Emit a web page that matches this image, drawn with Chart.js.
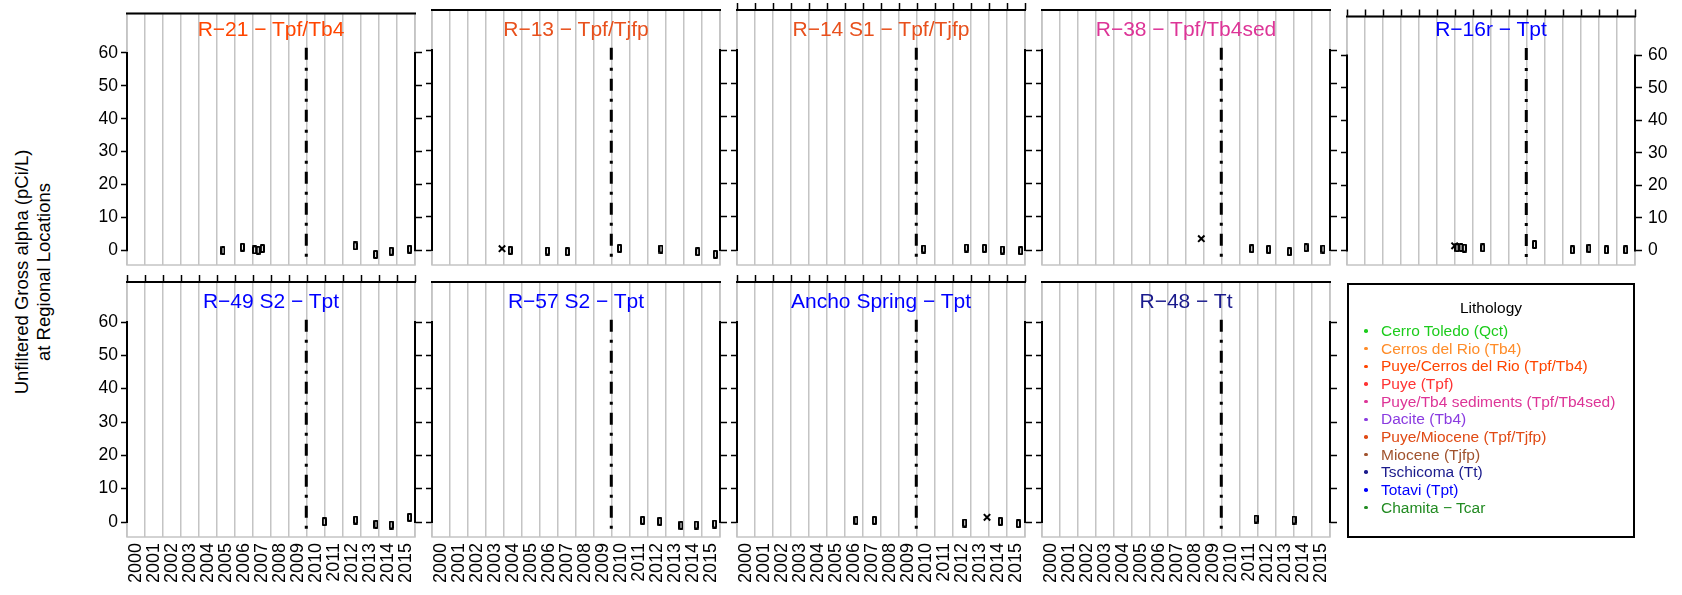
<!DOCTYPE html>
<html lang="en">
<head>
<meta charset="UTF-8">
<title>Unfiltered Gross alpha at Regional Locations</title>
<script src="https://cdn.jsdelivr.net/npm/chart.js"></script>
<style>
  body { margin: 0; width: 1682px; height: 595px; background: #fff; position: relative; overflow: hidden;
         font-family: "Liberation Sans", Arial, sans-serif; }
  canvas { position: absolute; left: 0; top: 0; pointer-events: none; }
  .ptitle { position: absolute; width: 288px; text-align: center; font-size: 21px; line-height: 24px; white-space: nowrap; }
  .ylab { position: absolute; left: 33px; top: 272px; width: 0; height: 0; }
  .ylab div { position: absolute; left: -200px; top: -22px; width: 400px; text-align: center; font-size: 18.5px; line-height: 22px;
              transform: rotate(-90deg); white-space: nowrap; }
  .legend { position: absolute; left: 1347px; top: 283px; width: 288px; height: 255px; border: 2px solid #000; box-sizing: border-box; }
  .lg { position: absolute; font-size: 15.5px; line-height: 18px; white-space: nowrap; }
  .dot { position: absolute; width: 3.5px; height: 3.5px; border-radius: 50%; }
</style>
</head>
<body>
<div class="ylab"><div>Unfiltered Gross alpha (pCi/L)<br>at Regional Locations</div></div>
<div class="legend"></div>
<script>
// axis ticks
const years = [2000, 2001, 2002, 2003, 2004, 2005, 2006, 2007, 2008, 2009, 2010, 2011, 2012, 2013, 2014, 2015, 2016];
const yTicks = [0, 10, 20, 30, 40, 50, 60];

// panels
const titles = ['R\u221221 \u2212 Tpf/Tb4', 'R\u221213 \u2212 Tpf/Tjfp', 'R\u221214 S1 \u2212 Tpf/Tjfp', 'R\u221238 \u2212 Tpf/Tb4sed', 'R\u221216r \u2212 Tpt',
                'R\u221249 S2 \u2212 Tpt', 'R\u221257 S2 \u2212 Tpt', 'Ancho Spring \u2212 Tpt', 'R\u221248 \u2212 Tt'];
const titleColors = ['#ff4500', '#e8501c', '#e8501c', '#dd3497', '#0000ff', '#0000ff', '#0000ff', '#0000ff', '#1a1a8c'];

// results (box markers) and x markers, per location
const r21X = [2005.33, 2006.41, 2007.09, 2007.29, 2007.52, 2012.68, 2013.81, 2014.68, 2015.7];
const r21Y = [-0.1, 0.9, 0.1, 0, 0.5, 1.3, -1.3, -0.3, 0.3];
const r13X = [2004.35, 2006.41, 2007.52, 2010.42, 2012.72, 2014.76, 2015.74];
const r13Y = [-0.1, -0.3, -0.5, 0.5, 0.3, -0.5, -1.3];
const r13CrossX = [2003.89];
const r13CrossY = [0.4];
const r14X = [2010.37, 2012.74, 2013.74, 2014.74, 2015.76];
const r14Y = [0.3, 0.6, 0.5, 0, -0.2];
const r38X = [2011.65, 2012.59, 2013.74, 2014.67, 2015.61];
const r38Y = [0.4, 0.2, -0.5, 0.7, 0.3];
const r38CrossX = [2008.85];
const r38CrossY = [3.4];
const r16X = [2006.11, 2006.33, 2006.52, 2007.54, 2010.42, 2012.52, 2013.44, 2014.41, 2015.48];
const r16Y = [0.8, 0.9, 0.7, 0.8, 1.8, 0.2, 0.6, 0.2, 0.2];
const r16CrossX = [2005.98];
const r16CrossY = [1.4];
const r49X = [2010.96, 2012.7, 2013.83, 2014.68, 2015.7];
const r49Y = [0.1, 0.6, -0.7, -0.9, 1.4];
const r57X = [2011.7, 2012.65, 2013.83, 2014.68, 2015.7];
const r57Y = [0.5, 0.2, -1.0, -0.9, -0.6];
const anchoX = [2006.61, 2007.63, 2012.65, 2014.63, 2015.63];
const anchoY = [0.5, 0.5, -0.3, 0.2, -0.5];
const anchoCrossX = [2013.89];
const anchoCrossY = [1.4];
const r48X = [2011.89, 2014.0];
const r48Y = [0.9, 0.6];

// reference line
const refX = 2009.96;
const refY = [-2, 63];

// legend
const lithology = ['Cerro Toledo (Qct)', 'Cerros del Rio (Tb4)', 'Puye/Cerros del Rio (Tpf/Tb4)', 'Puye (Tpf)',
                   'Puye/Tb4 sediments (Tpf/Tb4sed)', 'Dacite (Tb4)', 'Puye/Miocene (Tpf/Tjfp)', 'Miocene (Tjfp)',
                   'Tschicoma (Tt)', 'Totavi (Tpt)', 'Chamita \u2212 Tcar'];
const lithColors = ['#1ccc1c', '#ff8c28', '#ff4500', '#ff3333', '#dd3497', '#8a3be0', '#e04a14', '#a0522d',
                    '#1a1a8c', '#0000ff', '#228b22'];

const results = [[r21X, r21Y], [r13X, r13Y], [r14X, r14Y], [r38X, r38Y], [r16X, r16Y],
                 [r49X, r49Y], [r57X, r57Y], [anchoX, anchoY], [r48X, r48Y]];
const crosses = [null, [r13CrossX, r13CrossY], null, [r38CrossX, r38CrossY], [r16CrossX, r16CrossY],
                 null, null, [anchoCrossX, anchoCrossY], null];

const zip = (xs, ys) => xs.map((x, i) => ({ x: x, y: ys[i] }));

// layout
const PW = 1682, PH = 595;
const colLeft = [127, 432, 737, 1042, 1347];
const rowTop = [10, 282];
const W = 288, H = 255;
const topTicks = [false, false, true, false, true, true, false, true, false];

Chart.defaults.font.family = '"Liberation Sans", Arial, sans-serif';
Chart.defaults.color = '#000';

// small hollow box used as the marker
const box = document.createElement('canvas');
box.width = 5; box.height = 9;
const bc = box.getContext('2d');
bc.fillStyle = '#000';
bc.beginPath(); bc.roundRect(0, 0, 5, 9, 1.2); bc.fill();
bc.fillStyle = '#fff';
bc.fillRect(2, 2, 1, 5);

const frame = {
  id: 'frame',
  beforeDatasetsDraw(chart) {
    const { ctx, chartArea: a } = chart;
    const y = chart.scales.y;
    const y0 = y.getPixelForValue(0), y60 = y.getPixelForValue(60);
    ctx.save();
    ctx.strokeStyle = '#c4c4c4';
    ctx.lineWidth = 1.5;
    ctx.strokeRect(a.left, a.top, a.right - a.left, a.bottom - a.top);
    ctx.strokeStyle = '#000';
    ctx.lineWidth = 2;
    ctx.beginPath();
    ctx.moveTo(a.left - 1, a.top); ctx.lineTo(a.right + 1, a.top);
    ctx.moveTo(a.left, y60 - 1); ctx.lineTo(a.left, y0 + 1);
    ctx.moveTo(a.right, y60 - 1); ctx.lineTo(a.right, y0 + 1);
    ctx.stroke();
    ctx.restore();
  }
};

titles.forEach((t, i) => {
  const col = i < 5 ? i : i - 5;
  const row = i < 5 ? 0 : 1;
  const left = colLeft[col], top = rowTop[row];

  const d = document.createElement('div');
  d.className = 'ptitle';
  d.style.left = left + 'px';
  d.style.top = (top + 7) + 'px';
  d.style.color = titleColors[i];
  d.textContent = t;

  const cv = document.createElement('canvas');
  cv.width = PW; cv.height = PH;
  document.body.appendChild(cv);
  document.body.appendChild(d);

  const datasets = [
    {
      type: 'line', data: zip([refX, refX], refY), borderColor: '#000', borderWidth: 3,
      borderDash: [3, 8, 12, 8], pointRadius: 0, borderCapStyle: 'butt'
    },
    {
      type: 'scatter', data: zip(results[i][0], results[i][1]), pointStyle: box, pointRadius: 4
    }
  ];
  if (crosses[i]) {
    datasets.push({
      type: 'scatter', data: zip(crosses[i][0], crosses[i][1]), pointStyle: 'crossRot',
      pointRadius: 4.5, borderColor: '#000', borderWidth: 2
    });
  }

  const setTicks = vals => s => { s.ticks = vals.map(v => ({ value: v })); };

  new Chart(cv, {
    data: { datasets: datasets },
    options: {
      responsive: false,
      animation: false,
      events: [],
      layout: { padding: 0 },
      plugins: { legend: { display: false }, tooltip: { enabled: false } },
      scales: {
        x: {
          type: 'linear', position: 'bottom', min: 2000, max: 2016,
          afterBuildTicks: setTicks(years),
          grid: { color: '#c4c4c4', lineWidth: 1.5, drawTicks: false },
          border: { display: false },
          ticks: {
            display: row === 1, autoSkip: false, minRotation: 90, maxRotation: 90,
            labelOffset: 9, padding: 6, font: { size: 18 },
            callback: v => (v === 2016 ? '' : String(v))
          },
          afterFit: s => { s.height = PH - (top + H); }
        },
        xTop: {
          type: 'linear', position: 'top', min: 2000, max: 2016,
          afterBuildTicks: setTicks(years),
          grid: { display: topTicks[i], drawOnChartArea: false, drawTicks: true, tickLength: 7, tickColor: '#000', tickWidth: 1.5 },
          border: { display: false },
          ticks: { display: false },
          afterFit: s => { s.height = top; }
        },
        y: {
          type: 'linear', position: 'left', min: -4.5, max: 72,
          afterBuildTicks: setTicks(yTicks),
          grid: { drawOnChartArea: false, tickLength: 6, tickColor: '#000', tickWidth: 1.5 },
          border: { display: false },
          ticks: { display: col === 0, padding: 3, font: { size: 17.5 } },
          afterFit: s => { s.width = left; }
        },
        yRight: {
          type: 'linear', position: 'right', min: -4.5, max: 72,
          afterBuildTicks: setTicks(yTicks),
          grid: { drawOnChartArea: false, tickLength: 7, tickColor: '#000', tickWidth: 1.5 },
          border: { display: false },
          ticks: { display: col === 4, padding: 6, font: { size: 17.5 } },
          afterFit: s => { s.width = PW - (left + W); }
        }
      }
    },
    plugins: [frame]
  });
});

// legend
const add = (cls, css, text) => {
  const e = document.createElement('div');
  e.className = cls;
  Object.assign(e.style, css);
  if (text) e.textContent = text;
  document.body.appendChild(e);
};
add('lg', { left: '1347px', width: '288px', textAlign: 'center', top: '299px', color: '#000' }, 'Lithology');
lithology.forEach((name, i) => {
  const yc = 331 + i * 17.65;
  add('dot', { left: '1364.3px', top: (yc - 1.75) + 'px', background: lithColors[i] });
  add('lg', { left: '1381px', top: (yc - 9) + 'px', color: lithColors[i] }, name);
});
</script>
</body>
</html>
